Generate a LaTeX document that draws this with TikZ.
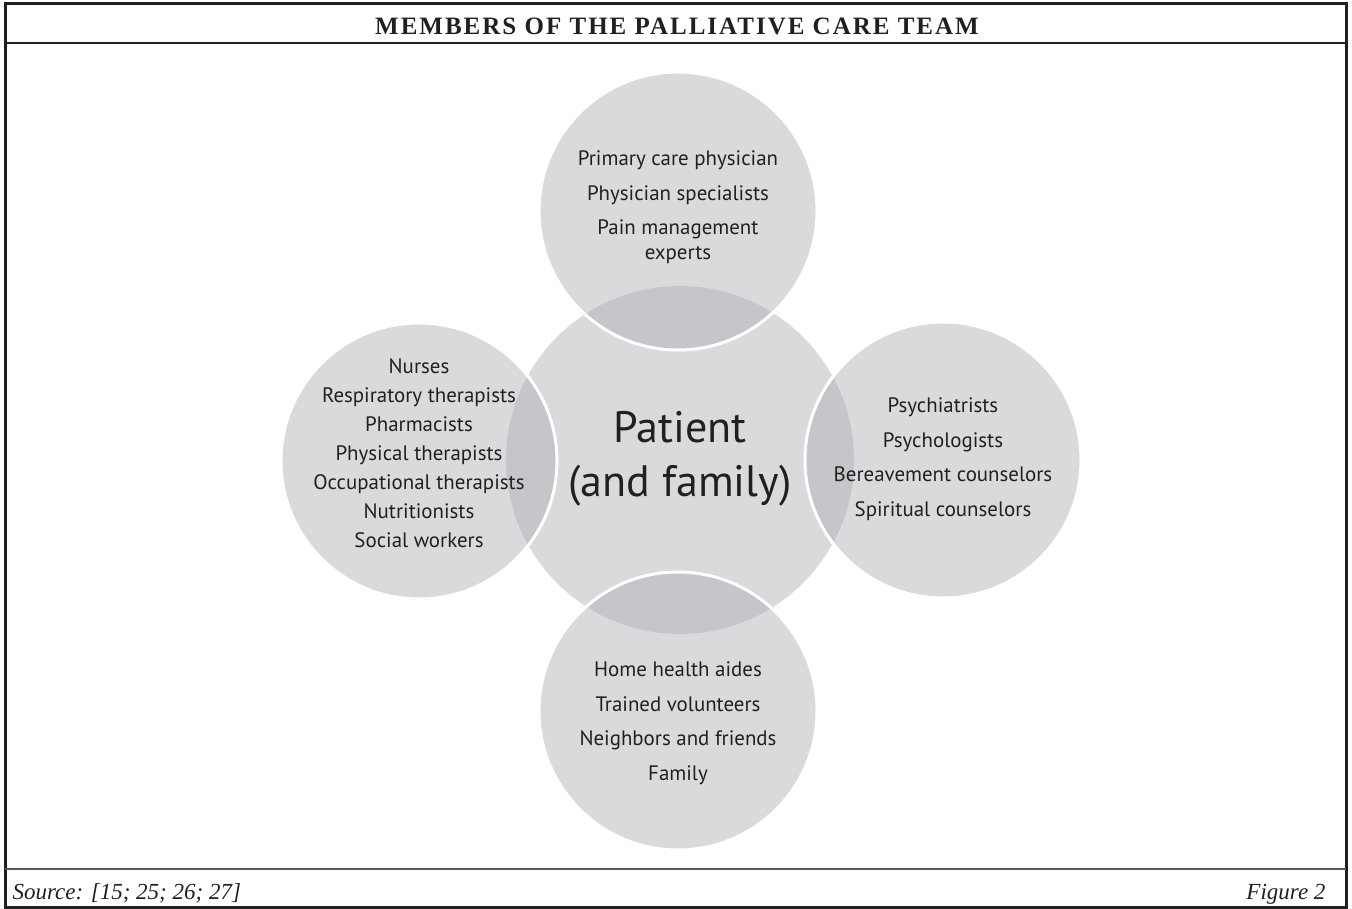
\documentclass[tikz,border=0pt]{standalone}
\usepackage{fontspec}
\setmainfont{Liberation Serif}
\setsansfont{PT Sans}
\newfontfamily\titlefont[LetterSpace=8]{Liberation Serif}
\usepackage{tikz}
\definecolor{ink}{RGB}{35,31,32}
\definecolor{disc}{RGB}{175,176,180}
\tikzstyle{core} = [circle, inner sep=0pt, fill=disc, fill opacity=0.47]
\tikzstyle{member} = [circle, inner sep=0pt, fill=disc, fill opacity=0.47, draw=white, draw opacity=1, line width=3pt]
\tikzstyle{roles} = [align=center, text=ink, font=\sffamily\fontsize{20.9}{24.5}\selectfont]
\tikzstyle{frame} = [draw=ink, line width=3pt]

\begin{document}
\begin{tikzpicture}[x=1pt, y=-1pt]
	\useasboundingbox (0,0) rectangle (1352,909);
	%----------------------------------------------------%
	\draw[frame] (5,4) rectangle (1346,907);
	\draw[frame, line width=2.5pt] (5,43) -- (1346,43);
	\draw[draw=ink!75, line width=2pt] (5,869) -- (1346,869);
	\node(title) [anchor=base, text=ink, font=\titlefont\bfseries\fontsize{25}{30}\selectfont] at (677,35) {MEMBERS OF THE PALLIATIVE CARE TEAM};
	\node(source) [anchor=base west, text=ink, font=\itshape\fontsize{23}{27}\selectfont] at (9,899) {Source: [15; 25; 26; 27]};
	\node(figno) [anchor=base east, text=ink, font=\itshape\fontsize{23}{27}\selectfont] at (1329,899) {Figure 2};
	%----------------------------------------------------%
	\node(patient) [core, minimum size=348pt] at (680,460) {};
	\node(doctors) [member, minimum size=278pt] at (678,211) {};
	\node(carers) [member, minimum size=276pt] at (419,461) {};
	\node(counsel) [member, minimum size=276pt] at (943,460) {};
	\node(home) [member, minimum size=278pt] at (678,711) {};
	%----------------------------------------------------%
	\node(patienttext) [align=center, text=ink, font=\sffamily\fontsize{44}{54}\selectfont] at (680,459) {Patient\\(and family)};
	\node(doctorstext) [roles] at (678,207) {Primary care physician\\[10pt] Physician specialists\\[10pt] Pain management\\experts};
	\node(carerstext) [roles] at (419,453) {Nurses\\[4.5pt] Respiratory therapists\\[4.5pt] Pharmacists\\[4.5pt] Physical therapists\\[4.5pt] Occupational therapists\\[4.5pt] Nutritionists\\[4.5pt] Social workers};
	\node(counseltext) [roles] at (943,459) {Psychiatrists\\[10pt] Psychologists\\[10pt] Bereavement counselors\\[10pt] Spiritual counselors};
	\node(hometext) [roles] at (678,723) {Home health aides\\[10pt] Trained volunteers\\[10pt] Neighbors and friends\\[10pt] Family};
\end{tikzpicture}
\end{document}
